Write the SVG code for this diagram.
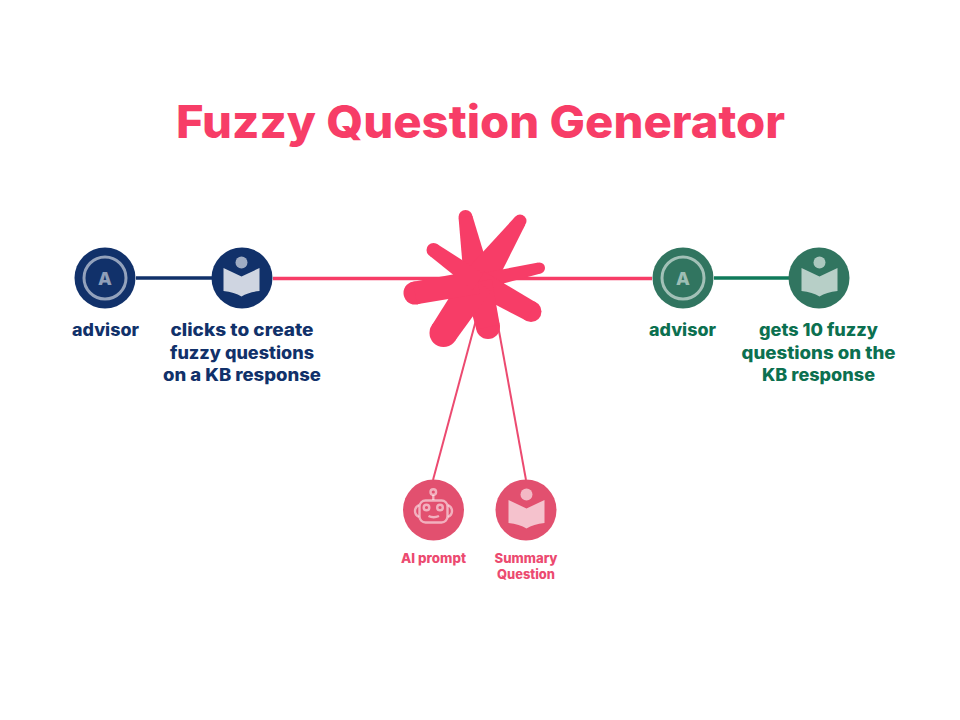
<svg xmlns="http://www.w3.org/2000/svg" width="960" height="720" viewBox="0 0 960 720">
<style>
text{font-family:"Inter","Liberation Sans",sans-serif;font-weight:800;text-anchor:middle}
.t{font-size:45px;fill:#f73d67;font-weight:800}
.n{font-size:17px;fill:#11316a}
.g{font-size:17px;fill:#0c7050}
.p{font-size:13px;fill:#ec4a70}
.ring{fill:none;stroke:#fff;stroke-opacity:.55;stroke-width:3}
.a{font-size:18px;fill:#fff;fill-opacity:.55}
.ic{fill:#fff}
.ih{fill:#fff;fill-opacity:.6}
.rb{fill:none;stroke:#fff;stroke-opacity:.55;stroke-width:2.4}
</style>
<defs>
<g id="book"><circle cx="0" cy="-15.500" r="6" class="ih"/><path class="ic" d="M-18-10 L0-1.500 L18-10 V13 Q7 14 0 18.500 Q-7 14 -18 13Z"/></g>
</defs>
<rect width="960" height="720" fill="#fff"/>
<g id="connectors" fill="none">
<line x1="136" y1="278" x2="212" y2="278" stroke="#11316a" stroke-width="3.5"/>
<line x1="273" y1="278.500" x2="652" y2="278.500" stroke="#f73d67" stroke-width="3.5"/>
<line x1="714" y1="278" x2="789" y2="278" stroke="#0f7a5a" stroke-width="3.5"/>
<line x1="476" y1="320" x2="433" y2="480" stroke="#ec4a70" stroke-width="2"/>
<line x1="497" y1="320" x2="526" y2="480" stroke="#ec4a70" stroke-width="2"/>
</g>
<g id="title"><text class="t" x="480.500" y="137.500" textLength="609" lengthAdjust="spacingAndGlyphs">Fuzzy Question Generator</text></g>
<g id="star" fill="#f73d67">
<circle cx="478" cy="283" r="26"/>
<circle cx="465.500" cy="217" r="7"/><polygon points="472.400,215.700 458.600,218.300 464.200,284.300 491.800,279.700"/>
<circle cx="520" cy="221" r="6.500"/><polygon points="525.300,224.700 514.700,217.300 464.500,272 491.500,292"/>
<circle cx="539.500" cy="268" r="5.500"/><polygon points="540.700,273.400 538.300,262.600 476.200,274.200 479.800,289.800"/>
<circle cx="531" cy="311.500" r="10.500"/><polygon points="536,302.400 526,320.600 472.200,292.500 483.800,271.500"/>
<circle cx="488" cy="327" r="12"/><polygon points="499.700,324.400 476.300,329.600 464.300,285 491.700,279"/>
<circle cx="443.500" cy="333" r="14"/><polygon points="455.100,340.800 431.900,325.200 464.700,273.100 491.300,290.900"/>
<circle cx="415" cy="293" r="11.500"/><polygon points="416.900,304.300 413.100,281.700 476.100,270.200 479.900,293.800"/>
<circle cx="433.500" cy="250" r="7"/><polygon points="437.400,244.200 429.600,255.800 472.500,290.300 483.500,273.700"/>
</g>
<g id="node-advisor-left">
<circle cx="105" cy="278" r="30.500" fill="#11316a"/><circle class="ring" cx="105" cy="278" r="21"/>
<text class="a" x="105" y="284.500">A</text>
<text class="n" x="105.500" y="336" textLength="67" lengthAdjust="spacingAndGlyphs">advisor</text>
</g>
<g id="node-clicks">
<circle cx="242" cy="278" r="30.500" fill="#11316a"/><use href="#book" x="241.500" y="278" fill-opacity=".8"/>
<text class="n" x="242" y="336" textLength="143" lengthAdjust="spacingAndGlyphs">clicks to create</text>
<text class="n" x="242" y="358.500" textLength="144" lengthAdjust="spacingAndGlyphs">fuzzy questions</text>
<text class="n" x="242" y="381" textLength="158" lengthAdjust="spacingAndGlyphs">on a KB response</text>
</g>
<g id="node-advisor-right">
<circle cx="683" cy="278" r="30.500" fill="#317560"/><circle class="ring" cx="683" cy="278" r="21"/>
<text class="a" x="683" y="284.500">A</text>
<text class="g" x="682.500" y="336" textLength="67" lengthAdjust="spacingAndGlyphs">advisor</text>
</g>
<g id="node-gets">
<circle cx="819" cy="278" r="30.500" fill="#317560"/><use href="#book" x="819.500" y="278" fill-opacity=".65"/>
<text class="g" x="818.500" y="336" textLength="119" lengthAdjust="spacingAndGlyphs">gets 10 fuzzy</text>
<text class="g" x="818.500" y="358.500" textLength="154" lengthAdjust="spacingAndGlyphs">questions on the</text>
<text class="g" x="818.500" y="381" textLength="113" lengthAdjust="spacingAndGlyphs">KB response</text>
</g>
<g id="node-ai-prompt">
<circle cx="433.500" cy="510" r="30.500" fill="#e2506f"/>
<rect class="rb" x="419.500" y="500.500" width="28" height="22" rx="6"/>
<circle class="rb" cx="433.300" cy="492" r="2.800"/><line class="rb" x1="433.300" y1="495" x2="433.300" y2="500"/>
<circle class="rb" cx="426.500" cy="507.500" r="2.800"/><circle class="rb" cx="440" cy="507.500" r="2.800"/>
<path class="rb" d="M428.500 516 Q433.500 518.500 439 516"/>
<path class="rb" d="M419 505 Q415 507 415 511 Q415 515 419 517"/>
<path class="rb" d="M448 505 Q452 507 452 511 Q452 515 448 517"/>
<text class="p" x="433.500" y="562.500" textLength="65" lengthAdjust="spacingAndGlyphs">AI prompt</text>
</g>
<g id="node-summary">
<circle cx="526" cy="510" r="30.500" fill="#e2506f"/><use href="#book" x="526.500" y="510" fill-opacity=".65"/>
<text class="p" x="526" y="562.500" textLength="63" lengthAdjust="spacingAndGlyphs">Summary</text>
<text class="p" x="526" y="578.500" textLength="58" lengthAdjust="spacingAndGlyphs">Question</text>
</g>
</svg>
